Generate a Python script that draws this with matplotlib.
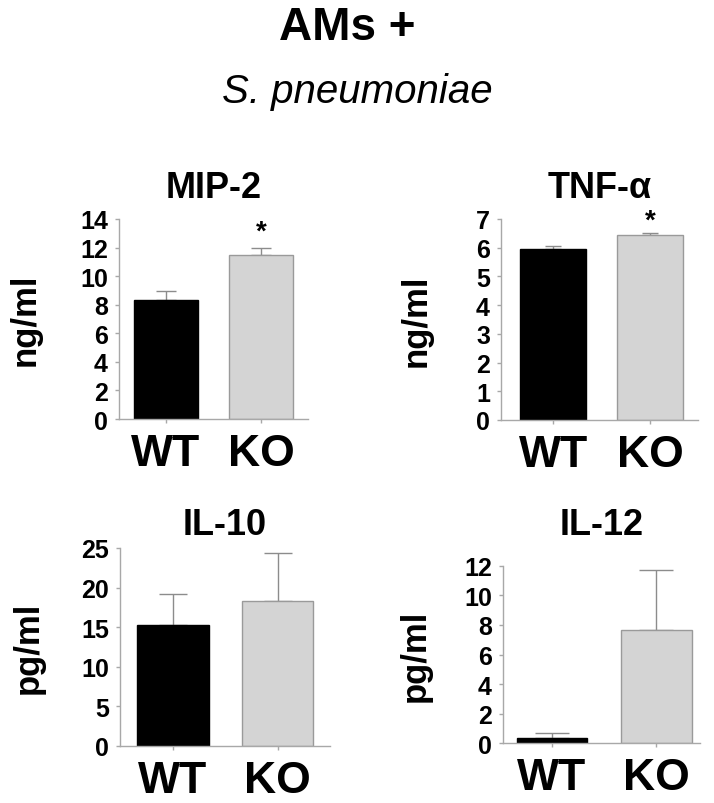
import matplotlib
matplotlib.use('Agg')
import matplotlib.pyplot as plt

plt.rcParams['font.family'] = ['Liberation Sans', 'DejaVu Sans']

genotipos = ['WT', 'KO']
titulos = ['MIP-2', 'TNF-α', 'IL-10', 'IL-12']
unidades = ['ng/ml', 'ng/ml', 'pg/ml', 'pg/ml']

mip2_media = [8.35, 11.5]
mip2_erro = [0.63, 0.5]
tnf_media = [5.95, 6.45]
tnf_erro = [0.12, 0.07]
il10_media = [15.3, 18.3]
il10_erro = [3.9, 6.1]
il12_media = [0.34, 7.66]
il12_erro = [0.34, 4.1]

ylims = [14, 7, 25, 12]
ypassos = [2, 1, 5, 2]
estrelas = [13.1, 6.93, None, None]

cor_wt = 'black'
cor_ko = '#d4d4d4'
cor_eixo = '#a8a8a8'

fig = plt.figure(figsize=(7.14, 8.04), dpi=100)

# posicoes dos eixos [esq, baixo, larg, alt] e xlim
posicoes = [[0.1667, 0.4776, 0.2647, 0.2488],
            [0.7017, 0.4764, 0.2760, 0.2500],
            [0.1680, 0.0709, 0.2940, 0.2463],
            [0.7045, 0.0746, 0.2760, 0.2202]]
xlims = [(-0.495, 1.495), (-0.536, 1.49), (-0.507, 1.5), (-0.47, 1.42)]
label_x = [-0.407, -0.345, -0.357, -0.36]
capsizes = [7, 6, 10, 12]
title_pads = [16, 16, 10, 23]

medias = [mip2_media, tnf_media, il10_media, il12_media]
erros = [mip2_erro, tnf_erro, il10_erro, il12_erro]

for i in range(4):
    ax = fig.add_axes(posicoes[i])
    xs = [0, 1]
    ax.bar(xs, medias[i], width=0.68, color=[cor_wt, cor_ko],
           edgecolor=['black', '#9a9a9a'], linewidth=1, zorder=2)
    ax.errorbar(xs, medias[i], yerr=[[0, 0], erros[i]], fmt='none',
                ecolor='#8c8c8c', elinewidth=1, capsize=capsizes[i],
                capthick=1, zorder=1)
    ax.set_xlim(*xlims[i])
    ax.set_ylim(0, ylims[i])
    ax.set_yticks(range(0, ylims[i] + 1, ypassos[i]))
    ax.set_xticks(xs)
    ax.set_xticklabels(genotipos, fontsize=32, fontweight='bold')
    for t in ax.get_yticklabels():
        t.set_fontsize(18)
        t.set_fontweight('bold')
    ax.tick_params(axis='both', color=cor_eixo, length=3, width=1)
    ax.tick_params(axis='x', pad=7)
    ax.tick_params(axis='y', pad=5)
    for lado in ['top', 'right']:
        ax.spines[lado].set_visible(False)
    for lado in ['left', 'bottom']:
        ax.spines[lado].set_color(cor_eixo)
        ax.spines[lado].set_linewidth(1)
    ax.set_ylabel(unidades[i], fontsize=25, fontweight='bold')
    ax.yaxis.set_label_coords(label_x[i], 0.5)
    ax.set_title(titulos[i], fontsize=26, fontweight='bold', pad=title_pads[i])
    if estrelas[i] is not None:
        ax.text(1, estrelas[i], '*', ha='center', va='center',
                fontsize=20, fontweight='bold')

fig.text(0.487, 0.965, 'AMs +', ha='center', va='center',
         fontsize=33, fontweight='bold')
fig.text(0.50, 0.886, 'S. pneumoniae', ha='center', va='center',
         fontsize=29, style='italic')

fig.savefig('out.png', dpi=100)
